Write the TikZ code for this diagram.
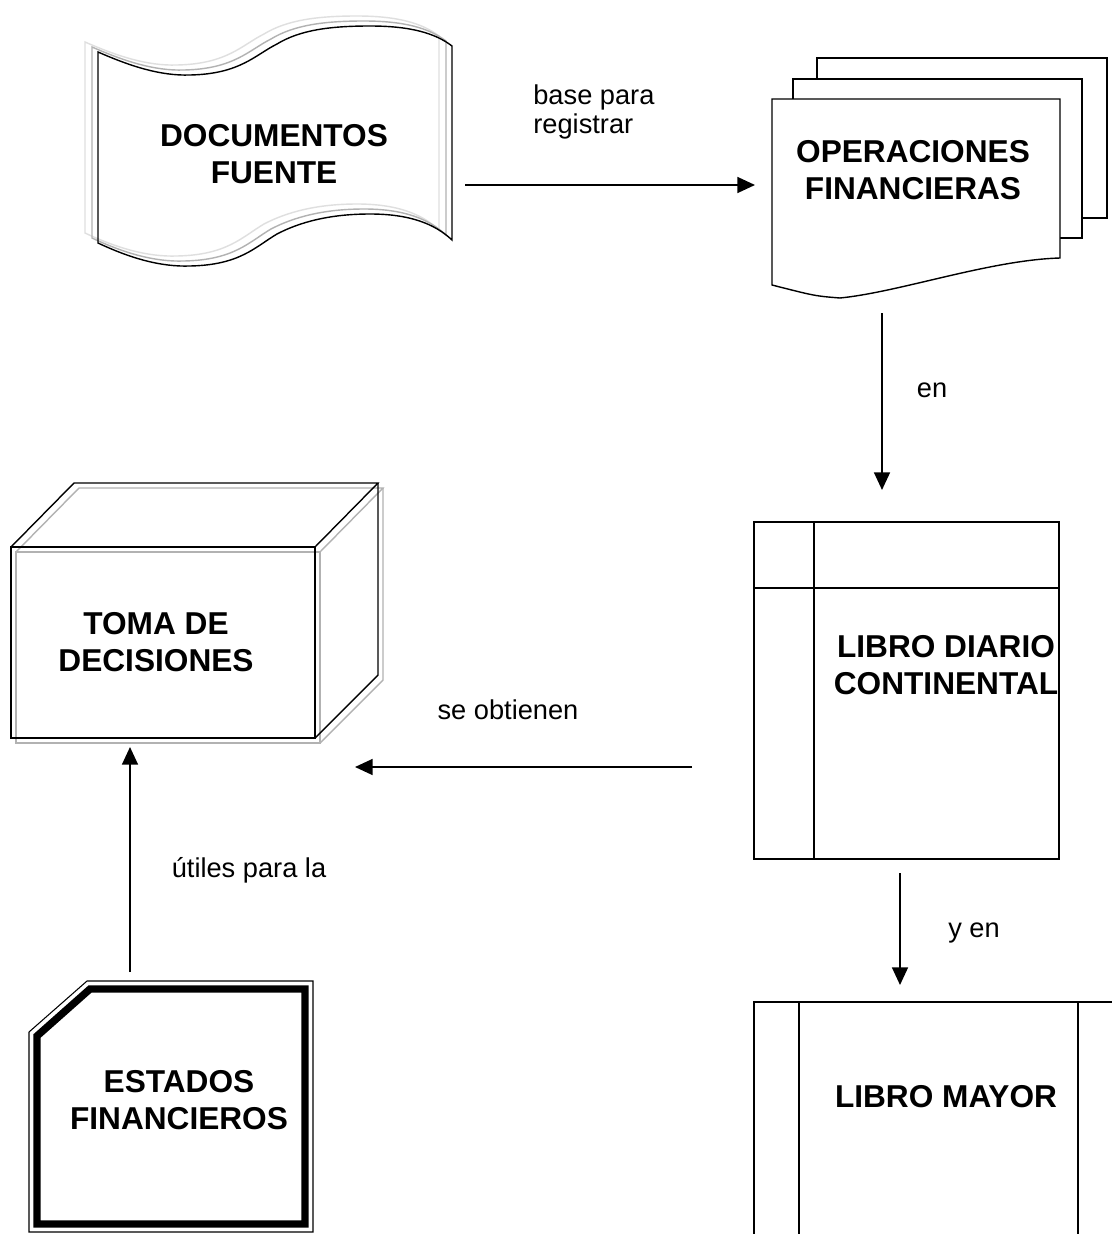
\documentclass[tikz,border=0pt]{standalone}
\usepackage{fontspec}
\setmainfont{Liberation Sans}
\usetikzlibrary{arrows.meta}

\tikzset{
    titulo/.style={font=\bfseries\fontsize{18}{21.5}\selectfont, align=center},
    etiqueta/.style={font=\fontsize{15.5}{16}\selectfont, align=left, anchor=base, inner xsep=0pt},
    flecha/.style={line width=1.1pt, -{Triangle[length=10pt,width=9pt]}},
    borde/.style={line width=0.8pt},
}

\newcommand{\hojaonda}{%
    (98,52) .. controls (130,66) and (160,76) .. (190,75)
    .. controls (240,74) and (255,55) .. (277,44)
    .. controls (300,30) and (330,26) .. (370,26)
    .. controls (410,26) and (435,33) .. (452,46)
    -- (452,240)
    .. controls (435,224) and (410,214) .. (370,214)
    .. controls (330,214) and (300,222) .. (277,234)
    .. controls (255,247) and (240,265) .. (190,266)
    .. controls (160,267) and (130,258) .. (98,243) -- cycle}

\begin{document}
\begin{tikzpicture}[x=0.02cm, y=-0.02cm]

    \useasboundingbox[fill=white] (0,0) rectangle (1112,1234);

    
    \draw[borde, gray!25, shift={(-13,-10)}] \hojaonda;
    \draw[borde, gray!60, shift={(-6,-5)}] \hojaonda;
    \draw[borde, black] \hojaonda;
    \node[titulo] (docfuente) at (274,154) {DOCUMENTOS\\FUENTE};

    
    \filldraw[borde, fill=white] (817,58) rectangle (1107,218);
    \filldraw[borde, fill=white] (793,79) rectangle (1082,238);
    \filldraw[borde, fill=white] (772,99) -- (1060,99) -- (1060,258)
        .. controls (990,260) and (900,292) .. (840,298)
        .. controls (815,296) .. (772,285) -- cycle;
    \node[titulo] (operaciones) at (913,170) {OPERACIONES\\FINANCIERAS};

    
    \draw[borde] (754,522) rectangle (1059,859);
    \draw[borde] (814,522) -- (814,859);
    \draw[borde] (754,588) -- (1059,588);
    \node[titulo] (diario) at (946,665) {LIBRO DIARIO\\CONTINENTAL};

    
    \draw[borde] (754,1240) -- (754,1002) -- (1115,1002);
    \draw[borde] (799,1002) -- (799,1240);
    \draw[borde] (1078,1002) -- (1078,1240);
    \node[titulo] (mayor) at (946,1097) {LIBRO MAYOR};

    
    \draw[line width=0.6pt] (29,1032) -- (87,981) -- (313,981) -- (313,1232) -- (29,1232) -- cycle;
    \draw[line width=4.2pt] (37,1036) -- (90,989) -- (305,989) -- (305,1224) -- (37,1224) -- cycle;
    \node[titulo] (estados) at (179,1100) {ESTADOS\\FINANCIEROS};

    
    \begin{scope}[shift={(5,5)}, gray!60]
        \draw[borde] (11,547) rectangle (315,738);
        \draw[borde] (11,547) -- (74,483) -- (378,483) -- (315,547);
        \draw[borde] (378,483) -- (378,675) -- (315,738);
    \end{scope}
    \draw[borde] (11,547) rectangle (315,738);
    \draw[borde] (11,547) -- (74,483) -- (378,483) -- (315,547);
    \draw[borde] (378,483) -- (378,675) -- (315,738);
    \node[titulo] (toma) at (156,642) {TOMA DE\\DECISIONES};

    
    \coordinate (a1) at (465,185);
    \coordinate (b1) at (755,185);
    \coordinate (a2) at (882,313);
    \coordinate (b2) at (882,490);
    \coordinate (a3) at (900,873);
    \coordinate (b3) at (900,985);
    \coordinate (a4) at (692,767);
    \coordinate (b4) at (355,767);
    \coordinate (a5) at (130,972);
    \coordinate (b5) at (130,747);

    \draw[flecha] (a1) -- (b1);
    \draw[flecha] (a2) -- (b2);
    \draw[flecha] (a3) -- (b3);
    \draw[flecha] (a4) -- (b4);
    \draw[flecha] (a5) -- (b5);

    \node[etiqueta, anchor=base west] (registrar) at (533,133) {base para\\registrar};
    \node[etiqueta] (en) at (932,397) {en};
    \node[etiqueta] (yen) at (974,937) {y en};
    \node[etiqueta] (obtienen) at (508,719) {se obtienen};
    \node[etiqueta] (utiles) at (249,877) {útiles para la};

\end{tikzpicture}
\end{document}
